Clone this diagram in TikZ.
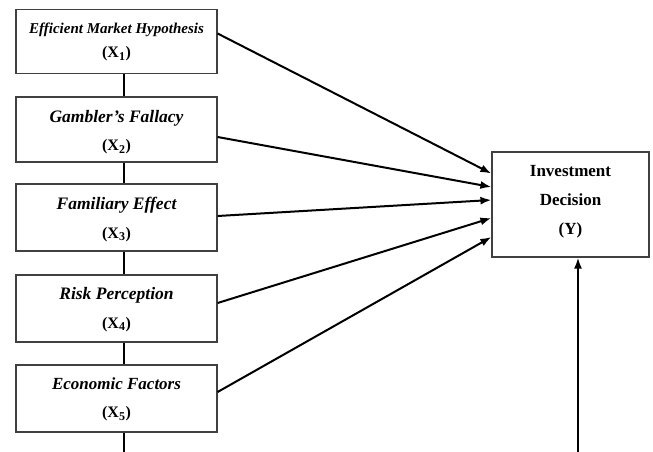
\documentclass[tikz,border=0pt]{standalone}
\usepackage{fontspec}
\setmainfont{Liberation Serif}
\usetikzlibrary{arrows.meta}
\newcommand{\xlab}[1]{\fontsize{16}{20}\selectfont\bfseries (X\textsubscript{\fontsize{12}{14}\selectfont #1})}
\begin{document}
\begin{tikzpicture}[x=1pt,y=-1pt,
  xbox/.style={draw=black!75,line width=1.2pt,fill=white,minimum width=201pt,inner sep=0pt},
  ybox/.style={draw=black!75,line width=1.2pt,fill=white,minimum width=157pt,minimum height=105pt,inner sep=0pt},
  txt/.style={align=center,inner sep=0pt},
  link/.style={line width=2pt},
  arr/.style={line width=2pt,-{Latex[length=11pt,width=8pt]}}]
\useasboundingbox (0,0) rectangle (653,452);
\node[xbox,minimum height=64pt] (x1) at (116.5,41.5) {};
\node[xbox,minimum height=65pt] (x2) at (116.5,129.5) {};
\node[xbox,minimum height=67pt] (x3) at (116.5,217.5) {};
\node[xbox,minimum height=67pt] (x4) at (116.5,308.5) {};
\node[xbox,minimum height=67pt] (x5) at (116.5,398.5) {};
\node[ybox] (y) at (570.5,204.5) {};
\node[txt] (t1) at (116.5,42) {\fontsize{15}{20}\selectfont\bfseries\itshape Efficient Market Hypothesis\\[9pt] \xlab{1}};
\node[txt] (t2) at (116.5,132.5) {\fontsize{17.5}{20}\selectfont\bfseries\itshape Gambler’s Fallacy\\[12pt] \xlab{2}};
\node[txt] (t3) at (116.5,219.5) {\fontsize{17.5}{20}\selectfont\bfseries\itshape Familiary Effect\\[13pt] \xlab{3}};
\node[txt] (t4) at (116.5,309.5) {\fontsize{17.5}{20}\selectfont\bfseries\itshape Risk Perception\\[13pt] \xlab{4}};
\node[txt] (t5) at (116.5,399.5) {\fontsize{17}{20}\selectfont\bfseries\itshape Economic Factors\\[16pt] \xlab{5}};
\node[txt] (ty) at (570.5,202) {\fontsize{17}{20}\selectfont\bfseries Investment\\[17pt] \fontsize{17}{20}\selectfont\bfseries Decision\\[17pt] \fontsize{17}{20}\selectfont\bfseries (Y)};
\coordinate (bl) at (123.5,452);
\coordinate (br) at (578,452);
\draw[link] ([xshift=7pt]x1.south) -- ([xshift=7pt]x2.north);
\draw[link] ([xshift=7pt]x2.south) -- ([xshift=7pt]x3.north);
\draw[link] ([xshift=7pt]x3.south) -- ([xshift=7pt]x4.north);
\draw[link] ([xshift=7pt]x4.south) -- ([xshift=7pt]x5.north);
\draw[link] ([xshift=7pt]x5.south) -- (bl);
\draw[arr] (br) -- ([xshift=7.5pt]y.south);
\draw[arr] ([yshift=8pt]x1.east) -- ([yshift=31pt]y.west);
\draw[arr] ([yshift=-7.5pt]x2.east) -- ([yshift=17.5pt]y.west);
\draw[arr] ([yshift=1.5pt]x3.east) -- ([yshift=4.5pt]y.west);
\draw[arr] ([yshift=5.5pt]x4.east) -- ([yshift=-13.5pt]y.west);
\draw[arr] ([yshift=6.5pt]x5.east) -- ([yshift=-32.5pt]y.west);
\end{tikzpicture}
\end{document}
